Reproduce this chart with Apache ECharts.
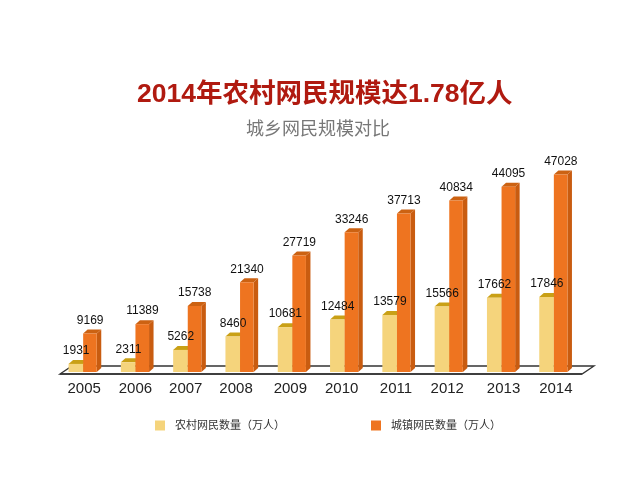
<!DOCTYPE html>
<html><head><meta charset="utf-8">
<style>html,body{margin:0;padding:0;background:#fff}#c{width:641px;height:480px}</style>
<script src="https://cdn.jsdelivr.net/npm/echarts@6/dist/echarts.min.js"></script>
</head><body><div id="c"></div>
<script>
const years = ['2005','2006','2007','2008','2009','2010','2011','2012','2013','2014'];
const rural = [1931,2311,5262,8460,10681,12484,13579,15566,17662,17846];
const urban = [9169,11389,15738,21340,27719,33246,37713,40834,44095,47028];
const ruralName = '农村网民数量（万人）';
const urbanName = '城镇网民数量（万人）';
const titleText = '2014年农村网民规模达1.78亿人';
const subText = '城乡网民规模对比';
const FONT = '"Liberation Sans","Noto Sans CJK SC",sans-serif';
const DX = 4.5, DY = 4;
const yearNudge = [0,-1,-3,-5,-3,-4,-2,-3,1,1];

function bar3d(off, W, labelOff, front, side, top) {
  return function (params, api) {
    const i = api.value(0), v = api.value(1);
    const p = api.coord([i, v]), b = api.coord([i, 0]);
    const x = p[0] + off, y = p[1], y0 = b[1];
    return { type: 'group', children: [
      { type:'polygon', shape:{points:[[x+W,y],[x+W+DX,y-DY],[x+W+DX,y0-DY],[x+W,y0]]}, style:{fill:side} },
      { type:'polygon', shape:{points:[[x,y],[x+DX,y-DY],[x+W+DX,y-DY],[x+W,y]]}, style:{fill:top} },
      { type:'rect', shape:{x:x,y:y,width:W,height:y0-y}, style:{fill:front} },
      { type:'text', z2:100, style:{ text:String(v), x:p[0]+labelOff, y:y-13, align:'center', verticalAlign:'middle',
        font:'12px '+FONT, fill:'#111' } }
    ]};
  };
}
function floor(params, api) {
  const c = params.coordSys, y = c.y + c.height;
  const l = c.x + 2, r = c.x + c.width + 1, d = 12, h = 8, yf = y + 2;
  return { type:'group', children:[
    { type:'polygon', shape:{points:[[l,yf],[l+d,yf-h],[r+d,yf-h],[r,yf]]}, style:{fill:'#fff', stroke:'#333', lineWidth:1.3} },
    { type:'line', shape:{x1:l,y1:yf,x2:r,y2:yf}, style:{stroke:'#333', lineWidth:1.6} }
  ]};
}
const chart = echarts.init(document.getElementById('c'), null, {renderer:'canvas'});
chart.setOption({
  animation:false,
  backgroundColor:'#fff',
  title:[
    {text:titleText,left:132,top:76,itemGap:0,textStyle:{fontFamily:FONT,fontSize:26.5,fontWeight:'bold',color:'#B01A10'}},
    {text:subText,left:241,top:116,textStyle:{fontFamily:FONT,fontSize:18,fontWeight:'normal',color:'#777'}}
  ],
  legend:{data:[ruralName,urbanName],left:150,top:415,itemWidth:10,itemHeight:10,itemGap:86,icon:'rect',
    textStyle:{fontFamily:FONT,fontSize:11,color:'#333',padding:[0,0,0,5]}},
  grid:{left:58,right:60,top:162,height:210},
  xAxis:{type:'category',
    data:years.map((y,i)=>{const n=yearNudge[i];return {value:y,textStyle:{padding:n<0?[0,-2*n,0,0]:[0,0,0,2*n]}};}),
    axisLine:{show:false},axisTick:{show:false},
    axisLabel:{margin:9,fontFamily:FONT,fontSize:15,color:'#222',interval:0}},
  yAxis:{type:'value',min:0,max:50000,show:false},
  series:[
    {type:'custom',name:'floor',silent:true,data:[0],renderItem:floor,z:1},
    {type:'custom',name:ruralName,itemStyle:{color:'#F5D47C'},encode:{x:0,y:1},
      data:years.map((y,i)=>[i,rural[i]]),renderItem:bar3d(-15.6,14.6,-8,'#F5D47C','#D9B040','#C9A016'),z:2},
    {type:'custom',name:urbanName,itemStyle:{color:'#EE7420'},encode:{x:0,y:1},
      data:years.map((y,i)=>[i,urban[i]]),renderItem:bar3d(-1,13.6,6,'#EE7420','#C95C10','#CC6212'),z:2}
  ]
});
</script></body></html>
